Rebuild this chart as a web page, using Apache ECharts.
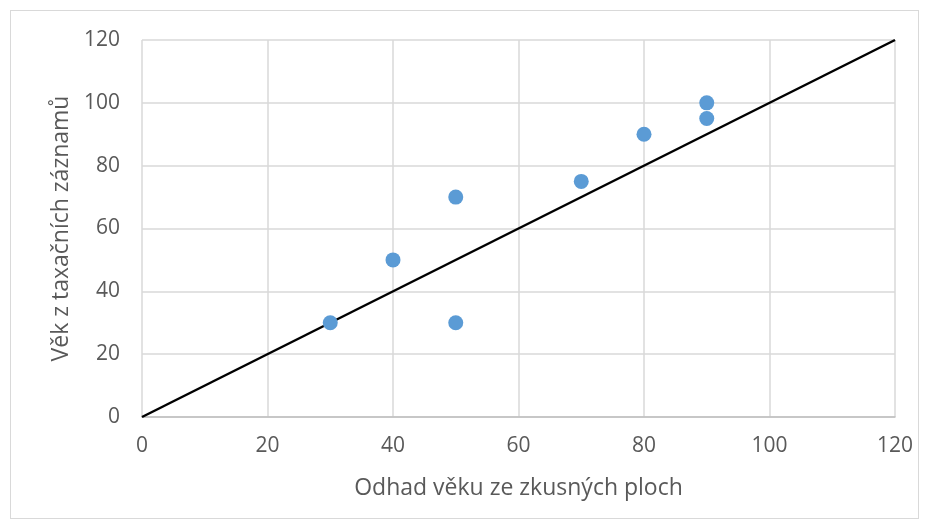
<!DOCTYPE html>
<html><head><meta charset="utf-8">
<script src="https://cdn.jsdelivr.net/npm/echarts@6/dist/echarts.min.js"></script>
<style>html,body{margin:0;padding:0;background:#fff}#c{width:928px;height:528px}
#frame{position:absolute;left:10px;top:10px;width:907px;height:507px;border:1px solid #d9d9d9;pointer-events:none}</style>
</head><body><div id="c"></div><div id="frame"></div>
<script>
const xName = 'Odhad věku ze zkusných ploch';
const yName = 'Věk z taxačních záznamů';
const estX = [30, 40, 50, 50, 70, 80, 90, 90];
const recY = [30, 50, 70, 30, 75, 90, 100, 95];
const lineX = [0, 120];
const lineY = [0, 120];

const chart = echarts.init(document.getElementById('c'));
const font = '"Open Sans", "Liberation Sans", sans-serif';
chart.setOption({
  animation: false,
  grid: {left: 142, right: 33, top: 40, bottom: 111},
  xAxis: {type: 'value', min: 0, max: 120, interval: 20,
    name: xName, nameLocation: 'middle', nameGap: 60,
    nameTextStyle: {color: '#595959', fontSize: 23, fontFamily: font},
    axisLine: {show: true, lineStyle: {color: '#bfbfbf', width: 1.5}},
    axisTick: {show: false},
    axisLabel: {color: '#595959', fontSize: 21, fontFamily: font, margin: 19},
    splitLine: {show: true, lineStyle: {color: '#d9d9d9', width: 1.5}}},
  yAxis: {type: 'value', min: 0, max: 120, interval: 20,
    name: yName, nameLocation: 'middle', nameGap: 68,
    nameTextStyle: {color: '#595959', fontSize: 23, fontFamily: font},
    axisLine: {show: false},
    axisTick: {show: false},
    axisLabel: {color: '#595959', fontSize: 21, fontFamily: font, margin: 22},
    splitLine: {show: true, lineStyle: {color: '#d9d9d9', width: 1.5}}},
  series: [
    {type: 'line', data: lineX.map((x, i) => [x, lineY[i]]), symbol: 'none',
     lineStyle: {color: '#000', width: 2.5}, z: 2},
    {type: 'scatter', data: estX.map((x, i) => [x, recY[i]]), symbolSize: 15,
     itemStyle: {color: '#5b9bd5', opacity: 1}, z: 3}
  ]
});
</script></body></html>
